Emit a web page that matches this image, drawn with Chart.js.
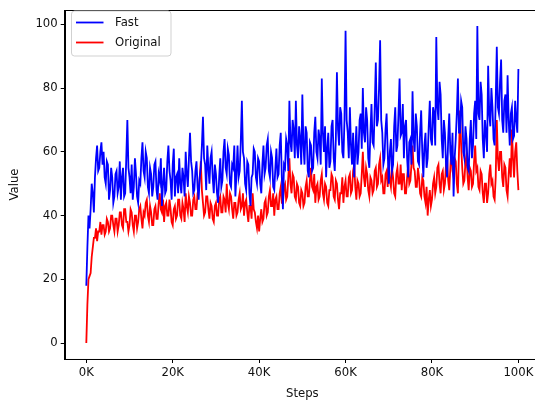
<!DOCTYPE html>
<html>
<head>
<meta charset="utf-8">
<script src="https://cdn.jsdelivr.net/npm/chart.js@4.4.1/dist/chart.umd.min.js"></script>
<style>
  html, body { margin: 0; padding: 0; background: #fff; overflow: hidden; }
  #wrap { width: 535px; height: 401px; overflow: hidden; }
</style>
</head>
<body>
<div id="wrap"><canvas id="grafico" width="540" height="401"></canvas></div>
<script>
// valores (um ponto a cada 250 passos)
const STEP = 250;
const fast = [
  18,30, 40,36, 42,50, 47,41, 52,58, 62,54, 55,60, 63,56, 60,52, 50,57,
  56,45, 48,55, 52,44, 46,53, 54,47, 49,57, 45,52, 55,46, 47,58, 70,55,
  52,47, 56,45, 49,58, 53,46, 44,51, 50,58, 63,54, 52,60, 58,49, 47,55,
  53,46, 49,56, 57,48, 45,53, 51,58, 43,50, 55,47, 48,57, 62,54, 51,45,
  56,61, 46,52, 53,47, 58,50, 47,55, 52,46, 60,53, 49,58, 66,57, 54,47,
  48,54, 57,49, 45,52, 55,62, 71,58, 56,48, 62,55, 50,58, 60,52, 47,56,
  53,47, 44,52, 58,49, 51,60, 64,55, 53,61, 59,50, 49,56, 55,62, 46,53,
  62,52, 54,63, 76,60, 58,50, 48,57, 56,47, 43,52, 53,61, 60,52, 50,58,
  57,50, 47,56, 62,53, 55,62, 64,54, 52,60, 58,49, 48,55, 61,52, 53,62,
  66,52, 42,56, 55,64, 62,54, 76,63, 60,70, 67,58, 76,62, 58,68, 64,56,
  78,62, 56,68, 66,54, 52,63, 62,54, 55,66, 71,60, 58,67, 64,56, 83,66,
  60,68, 52,61, 66,55, 57,68, 70,58, 54,64, 85,67, 62,74, 72,60, 58,70,
  98,70, 66,58, 74,62, 56,66, 52,60, 68,56, 60,70, 72,61, 80,66, 63,74,
  70,58, 55,66, 75,63, 62,74, 88,68, 70,80, 95,70, 66,56, 58,67, 72,60,
  50,60, 64,54, 56,68, 74,60, 62,72, 83,65, 66,75, 58,68, 70,58, 52,63,
  64,56, 79,64, 60,72, 68,57, 56,66, 73,60, 52,62, 66,55, 58,68, 76,64,
  62,74, 72,62, 96,74, 70,82, 78,64, 58,70, 66,56, 52,64, 72,60, 56,66,
  46,58, 64,72, 83,66, 66,76, 74,60, 58,68, 64,55, 54,64, 70,58, 62,72,
  76,64, 99.5,72, 70,82, 78,64, 58,70, 66,60, 87,72, 68,80, 74,64, 62,76,
  93,74, 72,82, 89,70, 66,76, 78,66, 84,70, 62,72, 74,64, 65,76, 70,66,
  86
];
const original = [
  0,12, 20,21, 22,27, 30,33, 33,36, 32,35, 35,38, 34,37, 37,34, 35,39,
  38,35, 36,40, 40,37, 35,39, 39,35, 37,41, 41,37, 36,42, 42,38, 38,35,
  37,42, 41,37, 35,40, 40,36, 38,42, 43,39, 36,41, 40,44, 45,40, 38,43,
  41,37, 37,42, 43,39, 39,44, 47,42, 41,45, 38,43, 44,40, 40,45, 42,38,
  37,42, 43,39, 40,45, 45,40, 39,44, 42,38, 47,43, 41,46, 44,40, 40,45,
  46,42, 42,47, 48,52, 57,48, 44,40, 41,46, 46,42, 39,44, 43,39, 38,43,
  44,40, 40,45, 46,41, 41,46, 45,41, 50,44, 42,47, 46,42, 39,44, 44,40,
  41,45, 47,42, 43,47, 40,44, 45,41, 38,43, 43,39, 47,42, 41,38, 36,40,
  35,39, 42,38, 39,44, 45,40, 41,46, 48,43, 43,47, 40,45, 46,42, 42,47,
  49,44, 44,49, 50,45, 46,52, 58,50, 47,53, 52,46, 45,50, 49,44, 43,48,
  47,43, 44,49, 51,46, 46,51, 55,49, 48,53, 44,49, 50,45, 46,51, 53,47,
  45,50, 49,44, 43,48, 48,53, 52,46, 45,51, 50,45, 42,47, 47,52, 44,49,
  51,46, 46,52, 53,47, 48,54, 56,49, 45,51, 50,46, 47,53, 60,52, 49,55,
  53,48, 46,52, 51,47, 48,54, 55,49, 50,56, 58,51, 52,47, 47,53, 54,49,
  57,51, 49,55, 52,47, 46,53, 55,50, 50,56, 48,53, 53,47, 47,52, 56,50,
  51,56, 62,55, 54,49, 49,55, 52,47, 46,52, 51,46, 44,49, 40,45, 48,43,
  45,50, 52,47, 49,55, 56,50, 47,53, 54,48, 50,56, 58,51, 48,55, 62,54,
  52,58, 57,50, 47,60, 73,62, 55,50, 51,57, 59,52, 48,55, 54,49, 50,57,
  62,54, 55,49, 48,54, 53,47, 44,50, 50,44, 47,53, 56,50, 51,46, 45,52,
  70,58, 54,60, 60,52, 49,56, 55,48, 46,53, 58,52, 67,58, 52,60, 63,54,
  48
];
const xTicks = [0, 20000, 40000, 60000, 80000, 100000];
const yTicks = [0, 20, 40, 60, 80, 100];

const toPoints = arr => arr.map((v, i) => ({x: i * STEP, y: v}));
const fonte = {family: 'DejaVu Sans', size: 11.7};

// caixa do eixo (estilo matplotlib) + legenda dentro da area
const moldura = {
    id: 'moldura',
    afterDraw(chart) {
        const {ctx, chartArea: a} = chart;
        ctx.save();
        ctx.strokeStyle = '#000';
        ctx.lineWidth = 1;
        ctx.strokeRect(Math.round(a.left) + 0.5, Math.round(a.top) + 0.5, a.right - a.left, a.bottom - a.top);

        // legenda
        const bx = 71.5, by = 11, bw = 99.5, bh = 45, r = 3;
        ctx.beginPath();
        ctx.moveTo(bx + r, by);
        ctx.arcTo(bx + bw, by, bx + bw, by + bh, r);
        ctx.arcTo(bx + bw, by + bh, bx, by + bh, r);
        ctx.arcTo(bx, by + bh, bx, by, r);
        ctx.arcTo(bx, by, bx + bw, by, r);
        ctx.closePath();
        ctx.fillStyle = 'rgba(255,255,255,0.8)';
        ctx.fill();
        ctx.strokeStyle = '#cccccc';
        ctx.lineWidth = 0.9;
        ctx.stroke();

        ctx.font = `${fonte.size}px ${fonte.family}`;
        ctx.textBaseline = 'middle';
        ctx.textAlign = 'left';
        chart.data.datasets.forEach((ds, i) => {
            const y = 22.5 + i * 20;
            ctx.strokeStyle = ds.borderColor;
            ctx.lineWidth = ds.borderWidth;
            ctx.beginPath();
            ctx.moveTo(76, y);
            ctx.lineTo(103.5, y);
            ctx.stroke();
            ctx.fillStyle = '#111';
            ctx.fillText(ds.label, 115, y);
        });
        ctx.restore();
    }
};

const ctx = document.getElementById('grafico').getContext('2d');
new Chart(ctx, {
    type: 'line',
    data: {
        datasets: [
            {label: 'Fast', data: toPoints(fast), borderColor: '#0000ff', borderWidth: 1.8, pointRadius: 0, tension: 0},
            {label: 'Original', data: toPoints(original), borderColor: '#ff0000', borderWidth: 1.8, pointRadius: 0, tension: 0}
        ]
    },
    options: {
        responsive: false,
        animation: false,
        layout: {padding: {left: 0, top: 5, right: 0, bottom: 0}},
        plugins: {legend: {display: false}, tooltip: {enabled: false}},
        scales: {
            x: {
                type: 'linear',
                min: -5000,
                max: 105000,
                afterBuildTicks: s => { s.ticks = xTicks.map(v => ({value: v})); },
                afterFit: s => { s.height = 42; },
                ticks: {
                    color: '#111', font: fonte, padding: 3, maxRotation: 0,
                    callback: v => (v / 1000) + 'K'
                },
                grid: {drawOnChartArea: false, drawTicks: true, tickLength: 4, color: '#000'},
                border: {display: true, color: '#000'},
                title: {display: true, text: 'Steps', color: '#111', font: fonte, padding: {top: 0, bottom: 0}}
            },
            y: {
                min: -5,
                max: 104.5,
                afterBuildTicks: s => { s.ticks = yTicks.map(v => ({value: v})); },
                afterFit: s => { s.width = 64.7; },
                ticks: {color: '#111', font: fonte, padding: 3},
                grid: {drawOnChartArea: false, drawTicks: true, tickLength: 4, color: '#000'},
                border: {display: true, color: '#000'},
                title: {display: true, text: 'Value', color: '#111', font: fonte, padding: {top: 8, bottom: 0}}
            }
        }
    },
    plugins: [moldura]
});
</script>
</body>
</html>
